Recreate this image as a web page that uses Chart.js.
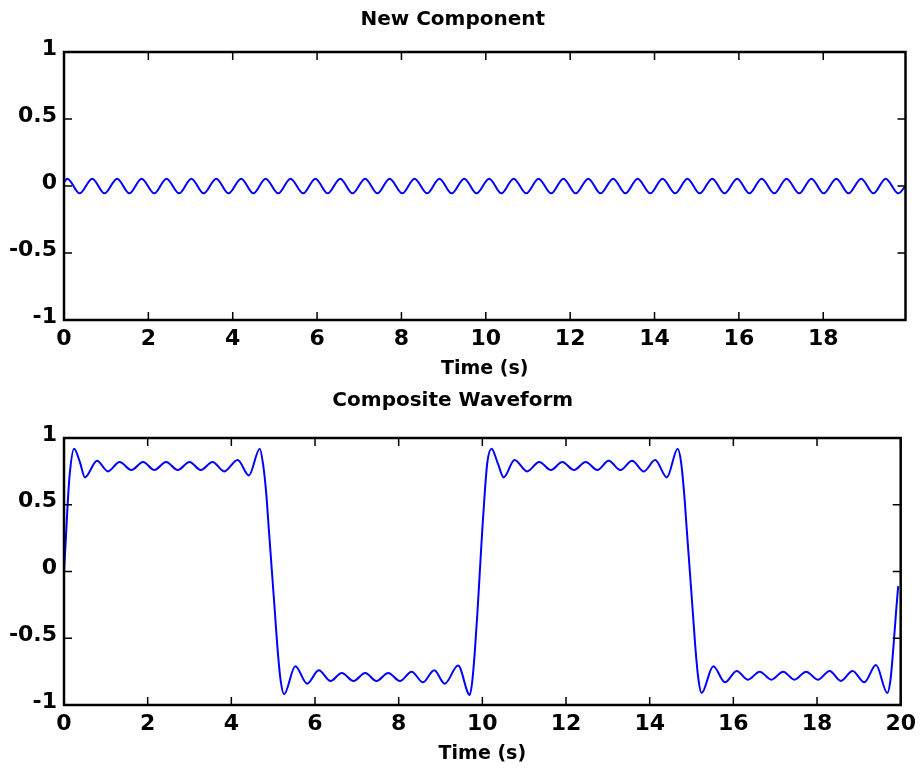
<!DOCTYPE html>
<html>
<head>
<meta charset="utf-8">
<title>New Component / Composite Waveform</title>
<script src="https://cdn.jsdelivr.net/npm/chart.js@4.4.0/dist/chart.umd.min.js"></script>
<style>
  body { margin: 0; background: #fff; }
  #wrap { position: relative; width: 922px; height: 769px; }
  canvas { position: absolute; left: 0; }
  #top-chart { top: 0; }
  #bottom-chart { top: 384px; }
</style>
</head>
<body>
<div id="wrap">
  <canvas id="top-chart" width="922" height="384"></canvas>
  <canvas id="bottom-chart" width="922" height="385"></canvas>
</div>
<script>
const FONT = "'DejaVu Sans', sans-serif";

// Axis ticks
const yTicks = [-1, -0.5, 0, 0.5, 1];
const yTickLabels = ['-1', '-0.5', '0', '0.5', '1'];
const topXTicks = [0, 2, 4, 6, 8, 10, 12, 14, 16, 18];
const bottomXTicks = [0, 2, 4, 6, 8, 10, 12, 14, 16, 18, 20];

// New component: peaks and troughs
const newT = [0, 0.08, 0.37, 0.67, 0.96, 1.26, 1.55, 1.84, 2.14, 2.43, 2.73, 3.02, 3.31,
  3.61, 3.90, 4.20, 4.49, 4.78, 5.08, 5.37, 5.67, 5.96, 6.25, 6.55, 6.84, 7.14, 7.43,
  7.72, 8.02, 8.31, 8.61, 8.90, 9.19, 9.49, 9.78, 10.08, 10.37, 10.66, 10.96, 11.25,
  11.55, 11.84, 12.13, 12.43, 12.72, 13.02, 13.31, 13.60, 13.90, 14.19, 14.49, 14.78,
  15.07, 15.37, 15.66, 15.96, 16.25, 16.54, 16.84, 17.13, 17.43, 17.72, 18.01, 18.31,
  18.60, 18.90, 19.19, 19.48, 19.78, 19.95];
const newV = [0.03, 0.055, -0.055, 0.055, -0.055, 0.055, -0.055, 0.055, -0.055, 0.055, -0.055,
  0.055, -0.055, 0.055, -0.055, 0.055, -0.055, 0.055, -0.055, 0.055, -0.055, 0.055, -0.055,
  0.055, -0.055, 0.055, -0.055, 0.055, -0.055, 0.055, -0.055, 0.055, -0.055, 0.055, -0.055,
  0.055, -0.055, 0.055, -0.055, 0.055, -0.055, 0.055, -0.055, 0.055, -0.055, 0.055, -0.055,
  0.055, -0.055, 0.055, -0.055, 0.055, -0.055, 0.055, -0.055, 0.055, -0.055, 0.055, -0.055,
  0.055, -0.055, 0.055, -0.055, 0.055, -0.055, 0.055, -0.055, 0.055, -0.055, 0.0];

// Composite waveform
const compT = [0, 0.05, 0.09, 0.14, 0.24, 0.38, 0.5, 0.79, 1.05, 1.33, 1.61, 1.89,
  2.16, 2.44, 2.72, 3.0, 3.27, 3.55, 3.83, 4.15, 4.42, 4.68, 4.76, 4.83, 4.90, 4.97,
  5.04, 5.11, 5.18, 5.26, 5.53, 5.81, 6.09, 6.37, 6.64, 6.92, 7.2, 7.47, 7.75, 8.03,
  8.31, 8.58, 8.85, 9.1, 9.42, 9.70, 9.76, 9.82, 9.88, 9.94, 10.0, 10.06, 10.12, 10.22,
  10.37, 10.51, 10.77, 11.07, 11.36, 11.64, 11.91, 12.19, 12.47, 12.75,
  13.02, 13.3, 13.58, 13.86, 14.13, 14.41, 14.67, 14.75, 14.82, 14.89, 14.96, 15.03,
  15.10, 15.17, 15.24, 15.52, 15.8, 16.08, 16.35, 16.63, 16.91, 17.19, 17.46, 17.74,
  18.02, 18.3, 18.57, 18.85, 19.13, 19.41, 19.68, 19.76, 19.83, 19.89, 19.94];
const compV = [0, 0.28, 0.52, 0.74, 0.92, 0.82, 0.705, 0.83, 0.75, 0.82, 0.76, 0.82,
  0.76, 0.82, 0.76, 0.82, 0.76, 0.82, 0.75, 0.835, 0.72, 0.92, 0.80, 0.60, 0.30, 0.0,
  -0.30, -0.60, -0.82, -0.92, -0.71, -0.84, -0.74, -0.82, -0.76, -0.82, -0.76, -0.82,
  -0.76, -0.82, -0.75, -0.83, -0.74, -0.84, -0.705, -0.925, -0.82, -0.60, -0.32, 0.0,
  0.32, 0.60, 0.82, 0.92, 0.81, 0.705, 0.835, 0.75, 0.82, 0.76, 0.82, 0.76,
  0.82, 0.76, 0.83, 0.76, 0.83, 0.75, 0.835, 0.705, 0.92, 0.82, 0.60, 0.30, 0.0, -0.30,
  -0.60, -0.82, -0.91, -0.71, -0.83, -0.745, -0.81, -0.75, -0.81, -0.75, -0.81,
  -0.75, -0.81, -0.745, -0.82, -0.745, -0.83, -0.70, -0.91, -0.80, -0.55, -0.30, -0.11];

// Box round the plot area with inward ticks on all four sides
const boxPlugin = {
  id: 'box',
  afterDraw(chart) {
    const { ctx, chartArea: a, scales: { x, y } } = chart;
    ctx.save();
    ctx.strokeStyle = '#000';
    ctx.lineWidth = 1.5;
    ctx.beginPath();
    x.ticks.forEach(t => {
      const px = x.getPixelForValue(t.value);
      ctx.moveTo(px, a.bottom); ctx.lineTo(px, a.bottom - 8);
      ctx.moveTo(px, a.top); ctx.lineTo(px, a.top + 8);
    });
    y.ticks.forEach(t => {
      const py = y.getPixelForValue(t.value);
      ctx.moveTo(a.left, py); ctx.lineTo(a.left + 8, py);
      ctx.moveTo(a.right, py); ctx.lineTo(a.right - 8, py);
    });
    ctx.stroke();
    ctx.lineWidth = 2.5;
    ctx.strokeRect(a.left, a.top, a.right - a.left, a.bottom - a.top);
    ctx.restore();
  }
};

function makeChart(id, title, t, v, xMax, xTicks, titlePad) {
  return new Chart(document.getElementById(id), {
    type: 'line',
    data: {
      datasets: [{
        data: t.map((tt, i) => ({ x: tt, y: v[i] })),
        borderColor: '#0000ff',
        borderWidth: 2,
        pointRadius: 0,
        cubicInterpolationMode: 'monotone',
        fill: false
      }]
    },
    options: {
      responsive: false,
      animation: false,
      layout: { padding: { left: 0, right: 16.5, top: 0, bottom: 0 } },
      plugins: {
        legend: { display: false },
        tooltip: { enabled: false },
        title: {
          display: true,
          text: title,
          color: '#000',
          font: { family: FONT, size: 20, weight: 'bold' },
          padding: titlePad
        }
      },
      scales: {
        x: {
          type: 'linear',
          min: 0,
          max: xMax,
          afterBuildTicks: s => { s.ticks = xTicks.map(value => ({ value })); },
          afterFit: s => { s.height = 64; },
          grid: { display: false, drawTicks: false },
          border: { display: false },
          ticks: {
            color: '#000',
            font: { family: FONT, size: 22, weight: 'bold' },
            padding: 6,
            autoSkip: false,
            maxRotation: 0,
            callback: (val, i) => String(xTicks[i])
          },
          title: {
            display: true,
            text: 'Time (s)',
            color: '#000',
            font: { family: FONT, size: 19, weight: 'bold' },
            padding: { top: 0, bottom: 4 }
          }
        },
        y: {
          min: -1,
          max: 1,
          afterBuildTicks: s => { s.ticks = yTicks.map(value => ({ value })); },
          afterFit: s => { s.width = 64; },
          grid: { display: false, drawTicks: false },
          border: { display: false },
          ticks: {
            color: '#000',
            font: { family: FONT, size: 22, weight: 'bold' },
            padding: 7,
            labelOffset: -3,
            callback: (val, i) => yTickLabels[i]
          }
        }
      }
    },
    plugins: [boxPlugin]
  });
}

makeChart('top-chart', 'New Component', newT, newV, 19.95, topXTicks, { top: 7.7, bottom: 20.3 });
makeChart('bottom-chart', 'Composite Waveform', compT, compV, 20, bottomXTicks, { top: 5, bottom: 25 });
</script>
</body>
</html>
